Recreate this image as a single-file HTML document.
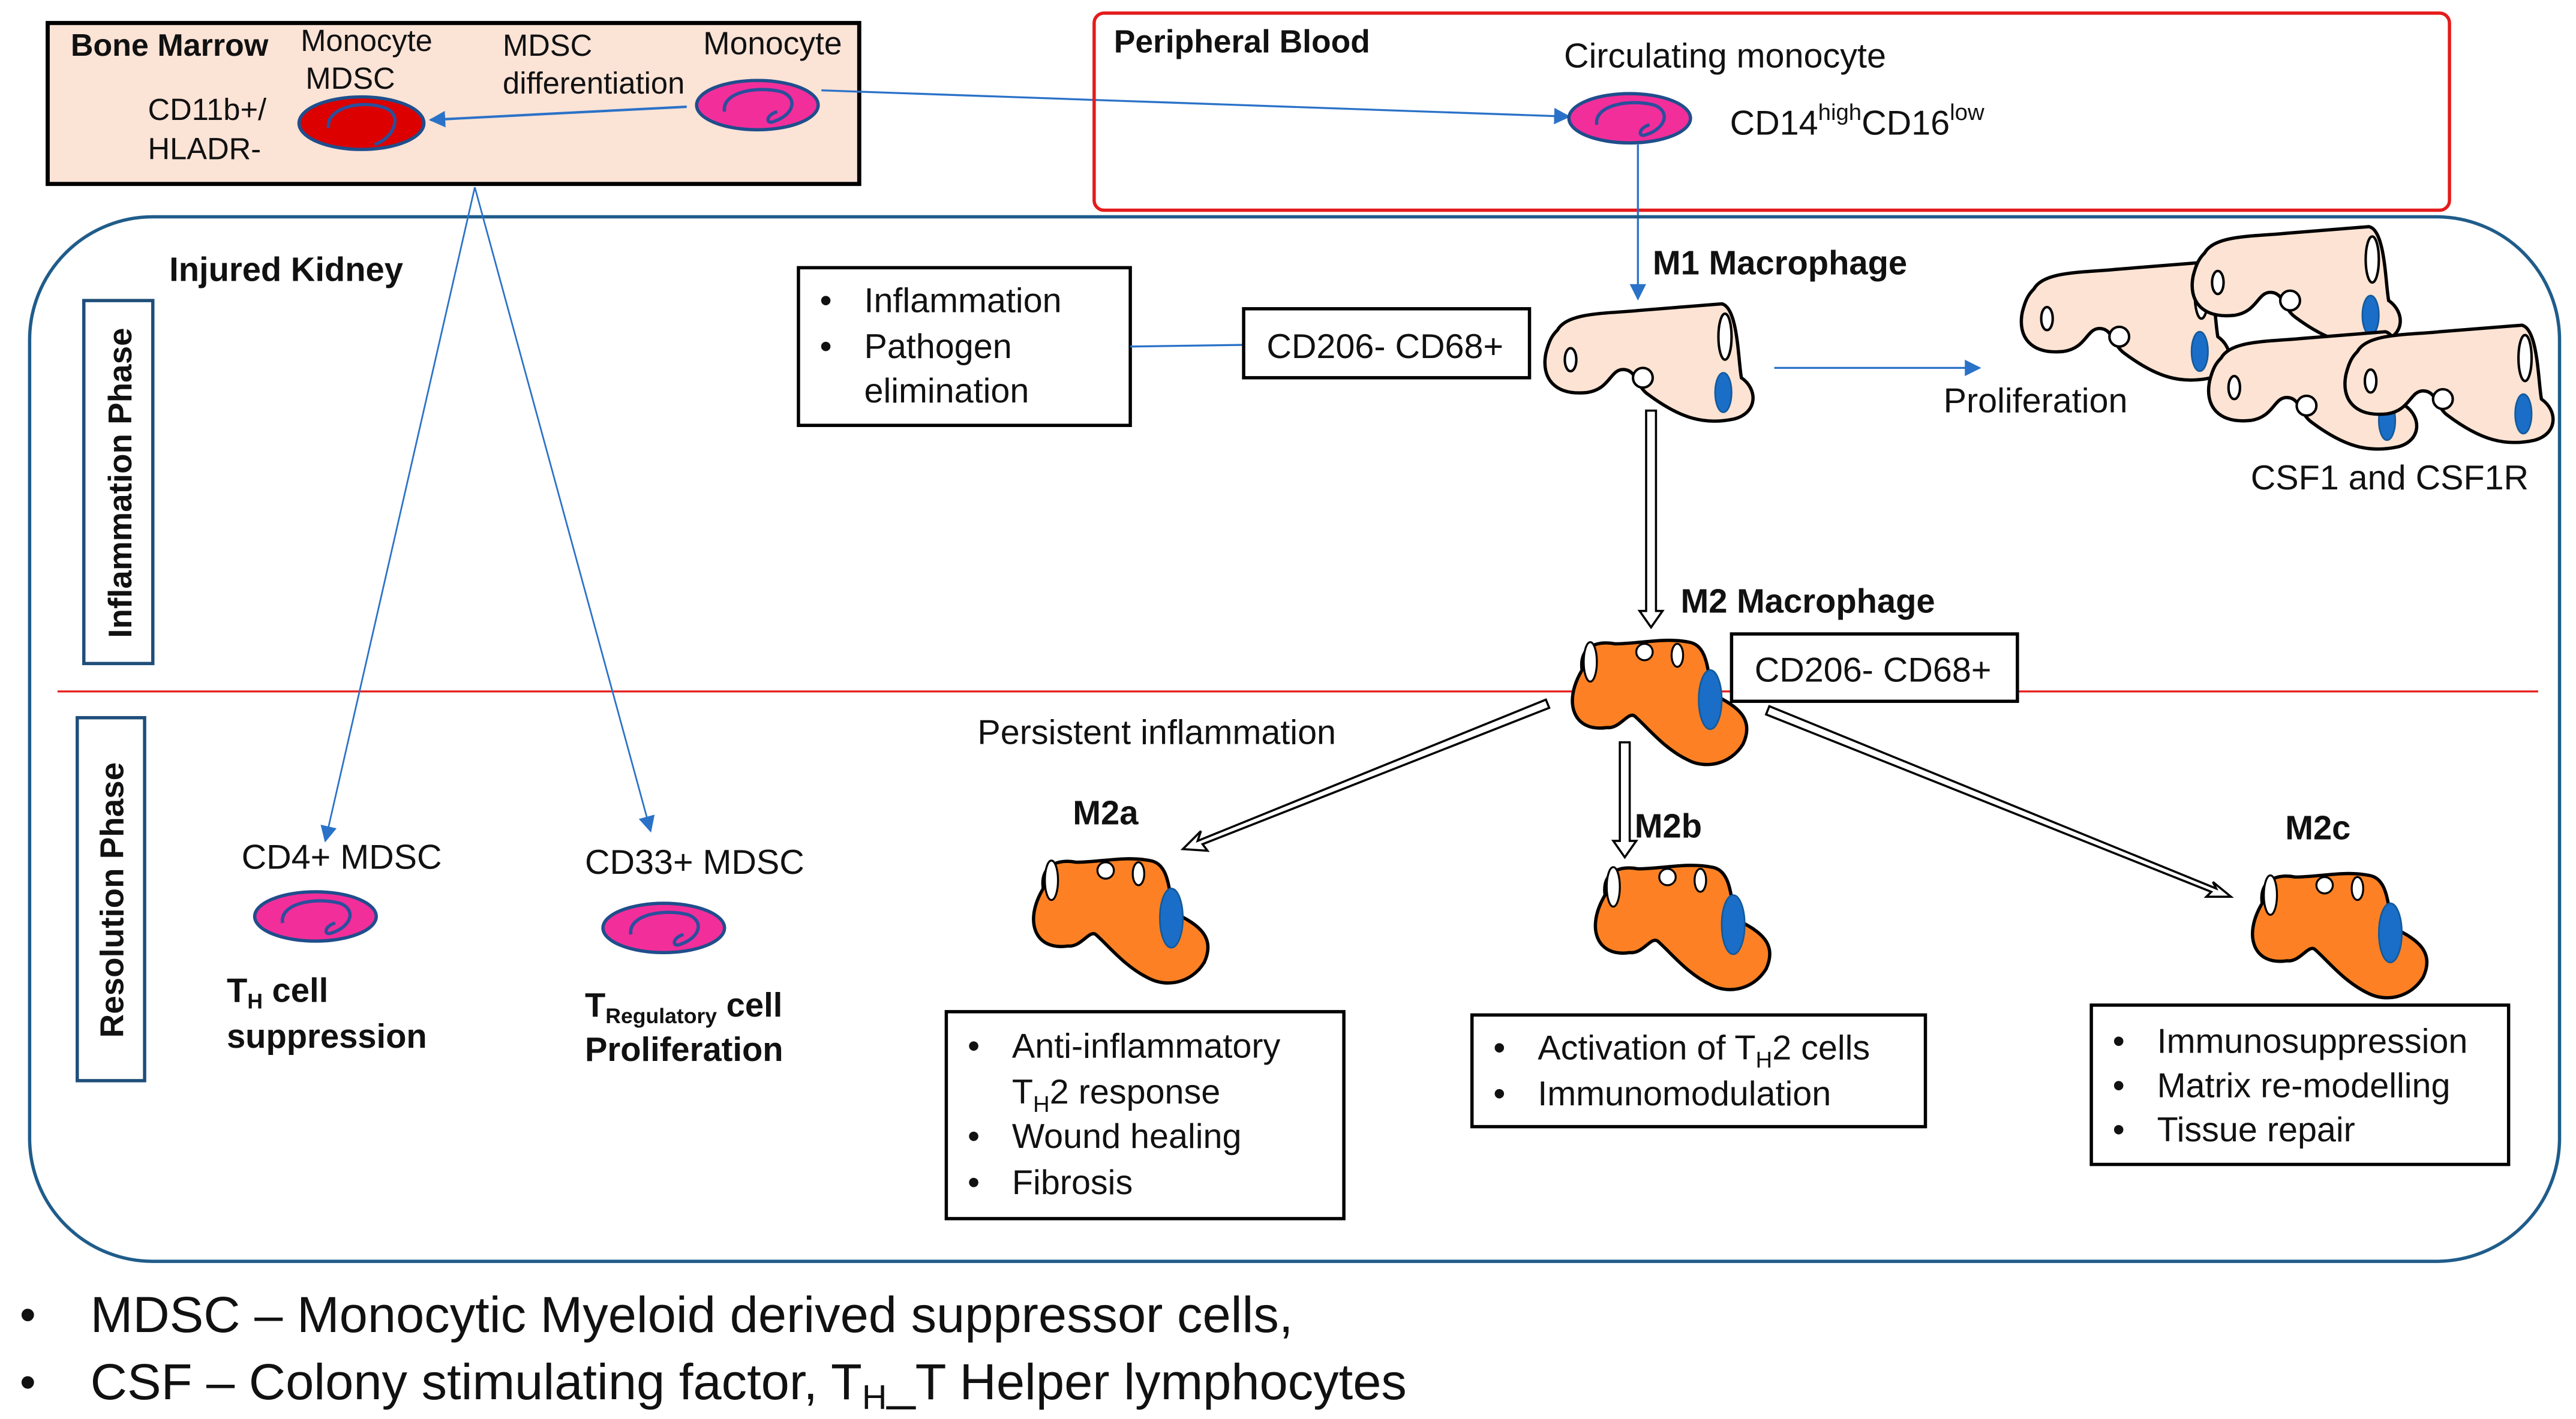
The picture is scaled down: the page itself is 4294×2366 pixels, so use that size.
<!DOCTYPE html>
<html><head><meta charset="utf-8"><style>
html,body{margin:0;padding:0;background:#fff;}
svg{display:block;}
text{font-family:"Liberation Sans",sans-serif;fill:#111;}
.b{font-weight:bold;}
</style></head><body>
<svg width="4294" height="2366" viewBox="0 0 1568 864" xmlns="http://www.w3.org/2000/svg">
<defs>
<marker id="ab" markerWidth="10" markerHeight="10" refX="9" refY="5" orient="auto" markerUnits="userSpaceOnUse"><path d="M0,0 L10,5 L0,10 Z" fill="#2a72c8"/></marker>
<g id="m1">
<path d="M10,16 C16,5 40,6 60,4 L110,0 C120,2 120,35 122,45 C132,52 132,66 118,70 C100,74 85,70 65,55 C58,50 58,40 50,40 C42,40 42,52 28,54 C8,56 0,45 3,30 C5,22 7,19 10,16 Z" fill="#fde3d3" stroke="#000" stroke-width="2"/>
<ellipse cx="112" cy="20" rx="4" ry="14" fill="#fff" stroke="#000" stroke-width="1.5"/>
<ellipse cx="18" cy="34" rx="3.5" ry="7" fill="#fff" stroke="#000" stroke-width="1.5"/>
<circle cx="62" cy="45" r="6" fill="#fff" stroke="#000" stroke-width="1.5"/>
<ellipse cx="111" cy="54" rx="5" ry="12" fill="#1a6ec7" stroke="#145a9c" stroke-width="1"/>
</g>
<g id="m2">
<path d="M10,20 C8,5 20,2 30,4 C45,4 60,0 75,3 C88,5 86,25 90,35 C105,42 115,50 108,65 C100,78 85,80 75,75 C60,68 50,55 42,48 C38,45 33,56 25,55 C5,58 -2,40 10,20 Z" fill="#fd8124" stroke="#000" stroke-width="2"/>
<ellipse cx="15" cy="15" rx="4" ry="12" fill="#fff" stroke="#000" stroke-width="1.2"/>
<circle cx="48" cy="9" r="5" fill="#fff" stroke="#000" stroke-width="1.2"/>
<ellipse cx="68" cy="11" rx="3.5" ry="7" fill="#fff" stroke="#000" stroke-width="1.2"/>
<ellipse cx="88" cy="38" rx="7" ry="18" fill="#1a6ec7" stroke="#145a9c" stroke-width="1"/>
</g>
<g id="mono">
<ellipse cx="0" cy="0" rx="37" ry="15" fill="#f22e9a" stroke="#1f4e8c" stroke-width="2"/>
<path d="M-20,4 C-22,-8 0,-12 15,-8 C25,-4 22,6 10,10 C5,12 5,6 12,4" fill="none" stroke="#2a4f9c" stroke-width="2"/>
</g>
</defs>

<!-- Bone marrow -->
<rect x="29" y="14" width="494" height="98" fill="#fbe3d6" stroke="#000" stroke-width="2.5"/>
<text x="43" y="34" font-size="19" class="b">Bone Marrow</text>
<text x="183" y="31" font-size="18.5">Monocyte</text>
<text x="186" y="54" font-size="18.5">MDSC</text>
<text x="90" y="73" font-size="18.5">CD11b+/</text>
<text x="90" y="97" font-size="18.5">HLADR-</text>
<ellipse cx="220" cy="75" rx="38" ry="16" fill="#dc0000" stroke="#1f4e8c" stroke-width="2"/>
<path d="M200,78 C198,66 220,60 235,66 C245,70 240,84 228,88" fill="none" stroke="#2a4f9c" stroke-width="2"/>
<text x="306" y="34" font-size="18.5">MDSC</text>
<text x="306" y="57" font-size="18.5">differentiation</text>
<text x="428" y="33" font-size="19.5">Monocyte</text>
<use href="#mono" x="461" y="64"/>
<line x1="418" y1="65" x2="262" y2="73" stroke="#2a72c8" stroke-width="1.5" marker-end="url(#ab)"/>
<line x1="500" y1="55" x2="955" y2="71" stroke="#2a72c8" stroke-width="1.2" marker-end="url(#ab)"/>

<!-- Peripheral blood -->
<rect x="666" y="8" width="825" height="120" rx="6" fill="none" stroke="#e51b1b" stroke-width="2"/>
<text x="678" y="32" font-size="19.5" class="b">Peripheral Blood</text>
<text x="952" y="41" font-size="21">Circulating monocyte</text>
<use href="#mono" x="992" y="72"/>
<text x="1053" y="82" font-size="21">CD14<tspan font-size="14" dy="-9">high</tspan><tspan dy="9">CD16</tspan><tspan font-size="14" dy="-9">low</tspan></text>
<line x1="997" y1="88" x2="997" y2="182" stroke="#2a72c8" stroke-width="1.2" marker-end="url(#ab)"/>

<!-- Injured kidney -->
<rect x="18" y="132" width="1540" height="636" rx="75" fill="none" stroke="#1f5c8a" stroke-width="2"/>
<text x="103" y="171" font-size="20.5" class="b">Injured Kidney</text>
<rect x="51" y="183" width="42" height="221" fill="none" stroke="#1f4e79" stroke-width="2"/>
<text transform="translate(80,294) rotate(-90)" text-anchor="middle" font-size="20" class="b">Inflammation Phase</text>
<rect x="47" y="437" width="41" height="221" fill="none" stroke="#1f4e79" stroke-width="2"/>
<text transform="translate(75,548) rotate(-90)" text-anchor="middle" font-size="20" class="b">Resolution Phase</text>
<line x1="35" y1="421" x2="1545" y2="421" stroke="#e51b1b" stroke-width="1.2"/>

<rect x="486" y="163" width="202" height="96" fill="none" stroke="#000" stroke-width="2"/>
<text x="499" y="190" font-size="21">•</text><text x="526" y="190" font-size="21">Inflammation</text>
<text x="499" y="218" font-size="21">•</text><text x="526" y="218" font-size="21">Pathogen</text>
<text x="526" y="245" font-size="21">elimination</text>
<line x1="688" y1="211" x2="757" y2="210" stroke="#2a72c8" stroke-width="1.2"/>
<rect x="757" y="188" width="174" height="42" fill="none" stroke="#000" stroke-width="2"/>
<text x="771" y="218" font-size="21">CD206- CD68+</text>

<use href="#m1" x="938" y="185"/>
<text x="1006" y="167" font-size="20.5" class="b">M1 Macrophage</text>
<line x1="1080" y1="224" x2="1205" y2="224" stroke="#2a72c8" stroke-width="1.2" marker-end="url(#ab)"/>
<text x="1183" y="251" font-size="21">Proliferation</text>
<use href="#m1" x="1228" y="160"/>
<use href="#m1" x="1332" y="138"/>
<use href="#m1" x="1342" y="202"/>
<use href="#m1" x="1425" y="198"/>
<text x="1370" y="298" font-size="21">CSF1 and CSF1R</text>

<!-- hollow arrows -->
<g fill="#fff" stroke="#000" stroke-width="1.3">
<path d="M1002,250 L1002,372 L998,372 L1005,382 L1012,372 L1008,372 L1008,250 Z"/>
<path d="M986,452 L986,512 L982,512 L989,522 L996,512 L992,512 L992,452 Z"/>
<path d="M941,426 L729,512 L731,506 L720,517 L735,518 L732,514 L943,431 Z"/>
<path d="M1077,430 L1349,541 L1347,537 L1358,546 L1343,546 L1346,543 L1075,435 Z"/>
</g>
<text x="1023" y="373" font-size="20.5" class="b">M2 Macrophage</text>
<use href="#m2" x="953" y="388"/>
<rect x="1054" y="386" width="174" height="41" fill="#fff" stroke="#000" stroke-width="2"/>
<text x="1068" y="415" font-size="21">CD206- CD68+</text>
<text x="595" y="453" font-size="21">Persistent inflammation</text>

<text x="653" y="502" font-size="20.5" class="b">M2a</text>
<use href="#m2" x="625" y="521"/>
<text x="995" y="510" font-size="20.5" class="b">M2b</text>
<use href="#m2" x="967" y="525"/>
<text x="1391" y="511" font-size="20.5" class="b">M2c</text>
<use href="#m2" x="1367" y="530"/>

<rect x="576" y="616" width="242" height="126" fill="none" stroke="#000" stroke-width="2"/>
<text x="589" y="644" font-size="21">•</text><text x="616" y="644" font-size="21">Anti-inflammatory</text>
<text x="616" y="672" font-size="21">T<tspan font-size="14" dy="5">H</tspan><tspan dy="-5">2 response</tspan></text>
<text x="589" y="699" font-size="21">•</text><text x="616" y="699" font-size="21">Wound healing</text>
<text x="589" y="727" font-size="21">•</text><text x="616" y="727" font-size="21">Fibrosis</text>

<rect x="896" y="618" width="276" height="68" fill="none" stroke="#000" stroke-width="2"/>
<text x="909" y="645" font-size="21">•</text><text x="936" y="645" font-size="21">Activation of T<tspan font-size="14" dy="5">H</tspan><tspan dy="-5">2 cells</tspan></text>
<text x="909" y="673" font-size="21">•</text><text x="936" y="673" font-size="21">Immunomodulation</text>

<rect x="1273" y="612" width="254" height="97" fill="none" stroke="#000" stroke-width="2"/>
<text x="1286" y="641" font-size="21">•</text><text x="1313" y="641" font-size="21">Immunosuppression</text>
<text x="1286" y="668" font-size="21">•</text><text x="1313" y="668" font-size="21">Matrix re-modelling</text>
<text x="1286" y="695" font-size="21">•</text><text x="1313" y="695" font-size="21">Tissue repair</text>

<!-- MDSC lines -->
<line x1="289" y1="114" x2="198" y2="512" stroke="#2a72c8" stroke-width="1" marker-end="url(#ab)"/>
<line x1="289" y1="114" x2="396" y2="506" stroke="#2a72c8" stroke-width="1" marker-end="url(#ab)"/>
<text x="147" y="529" font-size="21">CD4+ MDSC</text>
<use href="#mono" x="192" y="558"/>
<text x="138" y="610" font-size="20.5" class="b">T<tspan font-size="13" dy="4">H</tspan><tspan dy="-4"> cell</tspan></text>
<text x="138" y="638" font-size="20.5" class="b">suppression</text>
<text x="356" y="532" font-size="21">CD33+ MDSC</text>
<use href="#mono" x="404" y="565"/>
<text x="356" y="619" font-size="20.5" class="b">T<tspan font-size="13" dy="4">Regulatory</tspan><tspan dy="-4"> cell</tspan></text>
<text x="356" y="646" font-size="20.5" class="b">Proliferation</text>

<!-- footer -->
<text x="12" y="810" font-size="28">•</text>
<text x="55" y="811" font-size="31">MDSC – Monocytic Myeloid derived suppressor cells,</text>
<text x="12" y="851" font-size="28">•</text>
<text x="55" y="852" font-size="31">CSF – Colony stimulating factor, T<tspan font-size="21" dy="6">H</tspan><tspan dy="-6">_T Helper lymphocytes</tspan></text>
</svg>
</body></html>
